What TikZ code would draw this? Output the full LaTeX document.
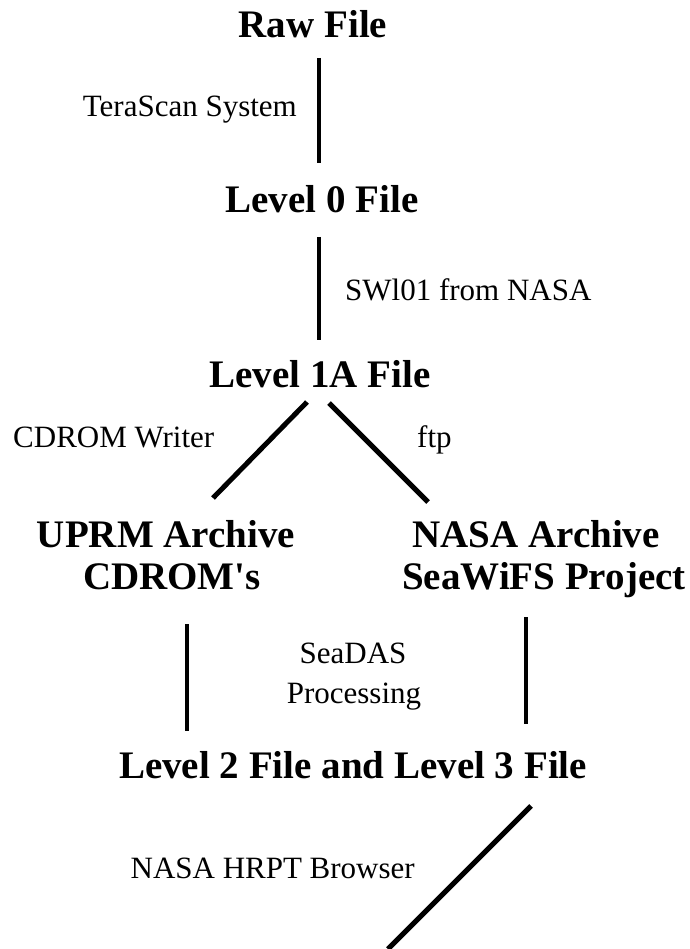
\documentclass[tikz,border=0pt]{standalone}
\usepackage{fontspec}
\setmainfont{Liberation Serif}[Ligatures=TeXOff]
\tikzset{
  title/.style={inner sep=0pt, anchor=base, font=\fontsize{39}{42}\selectfont\bfseries},
  lbl/.style={inner sep=0pt, font=\fontsize{31}{34}\selectfont},
  link/.style={line width=4pt, line cap=butt},
  dlink/.style={line width=5pt, line cap=butt}
}
\begin{document}
\begin{tikzpicture}[x=1pt,y=-1pt]
\useasboundingbox (0,0) rectangle (689,949);
% titles
\node[title] (raw) at (313,38) {Raw File};
\node[title] (l0) at (322,213) {Level 0 File};
\node[title] (l1a) at (320,387) {Level 1A File};
\node[title] (uprm) at (166,547) {UPRM Archive};
\node[title] (uprmb) at (172,589) {CDROM's};
\node[title] (nasa) at (536,547) {NASA Archive};
\node[title] (nasab) at (544,589) {SeaWiFS Project};
\node[title] (l23) at (353,778) {Level 2 File and Level 3 File};
% labels
\node[lbl, anchor=base east] (tera) at (297,117) {TeraScan System};
\node[lbl, anchor=base west] (swl) at (345,300) {SWl01 from NASA};
\node[lbl, anchor=base west] (cdw) at (13,447) {CDROM Writer};
\node[lbl, anchor=base west] (ftp) at (417,447) {ftp};
\node[lbl, anchor=base] (seadas) at (353,663) {SeaDAS};
\node[lbl, anchor=base] (proc) at (354,703) {Processing};
\node[lbl, anchor=base east] (hrpt) at (415,878) {NASA HRPT Browser};
% connector end points
\coordinate (a1) at (319,58);  \coordinate (a2) at (319,163);
\coordinate (b1) at (319,237); \coordinate (b2) at (319,340);
\coordinate (c1) at (307,402); \coordinate (c2) at (213,498);
\coordinate (d1) at (329,403); \coordinate (d2) at (428,502);
\coordinate (e1) at (187,624); \coordinate (e2) at (187,731);
\coordinate (f1) at (526,617); \coordinate (f2) at (526,724);
\coordinate (g1) at (531,806); \coordinate (g2) at (388,949);
\draw[link] (a1) -- (a2);
\draw[link] (b1) -- (b2);
\draw[dlink] (c1) -- (c2);
\draw[dlink] (d1) -- (d2);
\draw[link] (e1) -- (e2);
\draw[link] (f1) -- (f2);
\draw[dlink] (g1) -- (g2);
\end{tikzpicture}
\end{document}
